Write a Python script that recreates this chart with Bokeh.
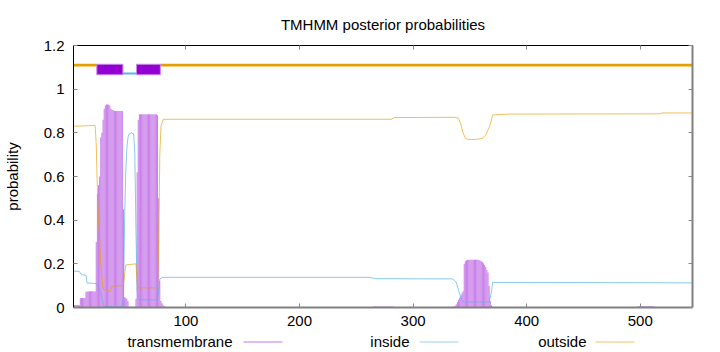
from bokeh.plotting import figure
from bokeh.models import Range1d, FixedTicker, LinearAxis
from bokeh.layouts import column
from bokeh.core.properties import value
from bokeh.embed import file_html
from bokeh.resources import INLINE

# ---------------- data ----------------
seq_length = 546

# topology (predicted segments)
tm_helix_start = [22, 57]
tm_helix_end = [44, 77]
inside_start = [45]
inside_end = [56]
outside_start = [1, 78]
outside_end = [21, 546]

# transmembrane posterior probability, per residue, for the regions where it is non-zero
tm_region_starts = [1, 265, 334, 498]
tm_region_values = [
    [0.012, 0.012, 0.012, 0.012, 0.012, 0.012,
     0.044, 0.044, 0.044, 0.044, 0.044,
     0.072, 0.073, 0.073, 0.074, 0.075, 0.075, 0.074, 0.073, 0.073,
     0.30, 0.52, 0.56, 0.60, 0.78, 0.80, 0.86, 0.91, 0.925, 0.93, 0.93, 0.93, 0.925, 0.91, 0.905, 0.905,
     0.90, 0.90, 0.90, 0.90, 0.90, 0.90, 0.90, 0.90,
     0.45,
     0.047, 0.045, 0.04, 0.03,
     0.003, 0.003, 0.003, 0.003, 0.003, 0.003,
     0.04, 0.62, 0.86,
     0.885, 0.885, 0.885, 0.885, 0.885, 0.885, 0.885, 0.885,
     0.885, 0.885, 0.885, 0.885, 0.885, 0.885, 0.885, 0.885,
     0.88, 0.50, 0.12, 0.03, 0.02, 0.01, 0.005, 0.003],
    [0.005, 0.005, 0.005, 0.005, 0.005, 0.005, 0.005, 0.005, 0.005,
     0.005, 0.005, 0.005, 0.005, 0.005, 0.005, 0.005, 0.005, 0.005],
    [0.004, 0.004, 0.005,
     0.008, 0.015, 0.025, 0.035, 0.045, 0.055, 0.065, 0.075,
     0.20, 0.212, 0.216,
     0.219, 0.219, 0.219, 0.219, 0.219, 0.219, 0.219, 0.219, 0.219, 0.219,
     0.217, 0.215, 0.212, 0.208, 0.203, 0.195, 0.185, 0.172, 0.16, 0.10, 0.03, 0.01],
    [0.006, 0.006, 0.006, 0.006, 0.006, 0.006, 0.006, 0.006,
     0.006, 0.006, 0.006, 0.006, 0.006, 0.006, 0.006],
]

# inside posterior probability (residue, value)
inside_pos = [1, 6, 8, 12, 13, 21, 23, 25, 27, 28, 42, 44, 45, 46, 47, 48, 49, 50, 52, 54,
              55, 56, 57, 58, 75, 76, 77, 79, 262, 267, 335, 338, 340, 342, 344, 367, 369,
              370, 546]
inside_prob = [0.166, 0.166, 0.15, 0.148, 0.112, 0.11, 0.095, 0.07, 0.02, 0.005, 0.003,
               0.01, 0.05, 0.40, 0.62, 0.73, 0.78, 0.795, 0.80, 0.795,
               0.70, 0.35, 0.08, 0.035, 0.035, 0.08, 0.13, 0.138, 0.138, 0.132, 0.131,
               0.115, 0.08, 0.045, 0.026, 0.025, 0.07, 0.115, 0.113]

# outside posterior probability (residue, value)
outside_pos = [1, 20, 21, 22, 23, 24, 25, 27, 33, 35, 45, 46, 47, 56, 57, 58, 75, 76, 77,
               78, 80, 281, 283, 336, 340, 342, 344, 346, 348, 356, 361, 364, 367, 368,
               370, 385, 517, 519, 546]
outside_prob = [0.83, 0.834, 0.75, 0.55, 0.40, 0.32, 0.20, 0.085, 0.073, 0.098, 0.10,
                0.15, 0.195, 0.20, 0.12, 0.09, 0.09, 0.30, 0.70, 0.83, 0.862, 0.862,
                0.87, 0.871, 0.868, 0.84, 0.80, 0.775, 0.77, 0.77, 0.775, 0.79, 0.825,
                0.84, 0.882, 0.886, 0.887, 0.891, 0.891]

x_ticks = [100, 200, 300, 400, 500]
y_ticks = [0, 0.2, 0.4, 0.6, 0.8, 1, 1.2]
y_tick_labels = ["0", "0.2", "0.4", "0.6", "0.8", "1", "1.2"]

title_text = "TMHMM posterior probabilities"
y_label_text = "probability"
legend_names = ["transmembrane", "inside", "outside"]

# ---------------- styles ----------------
FONT = "Liberation Sans"
FS = "15px"
C_TM = "#9400d3"
C_IN = "#56b4e9"
C_OUT = "#e69f00"

# ---------------- build ----------------
tm_x, tm_top = [], []
for start, vals in zip(tm_region_starts, tm_region_values):
    for i, v in enumerate(vals):
        tm_x.append(start + i)
        tm_top.append(v)

W, H_MAIN, H_LEG = 720, 332, 20
BL, BR = 73, 28

p = figure(width=W, height=H_MAIN, output_backend="svg", toolbar_location=None,
           x_range=Range1d(1, seq_length), y_range=Range1d(0, 1.2),
           x_axis_location=None, y_axis_location=None,
           min_border_left=BL, min_border_right=BR, min_border_top=44, min_border_bottom=25)
p.outline_line_color = None
p.background_fill_color = "white"
p.border_fill_color = "white"
p.xgrid.visible = False
p.ygrid.visible = False

p.title.text = title_text
p.title.align = "center"
p.title.text_font = FONT
p.title.text_font_size = FS
p.title.text_font_style = "normal"
p.title.text_color = "black"
p.title.standoff = 26


def make_axis(ticks, show_labels, line_color, line_width, standoff=8):
    ax = LinearAxis(ticker=FixedTicker(ticks=ticks))
    ax.major_tick_in = 4
    ax.major_tick_out = 0
    ax.minor_tick_line_color = None
    ax.major_tick_line_color = "#888888"
    ax.axis_line_color = line_color
    ax.axis_line_width = line_width
    ax.major_label_text_font = FONT
    ax.major_label_text_font_size = FS
    ax.major_label_text_color = "black"
    ax.major_label_standoff = standoff
    if not show_labels:
        ax.major_label_overrides = {t: "" for t in ticks}
        ax.major_label_standoff = 0
    return ax


ax_bottom = make_axis(x_ticks, True, "#808080", 2, standoff=8)
ax_left = make_axis(y_ticks, True, "black", 1, standoff=9)
ax_left.major_label_overrides = {t: s for t, s in zip(y_ticks, y_tick_labels)}
ax_left.axis_label = y_label_text
ax_left.axis_label_text_font = FONT
ax_left.axis_label_text_font_size = FS
ax_left.axis_label_text_font_style = "normal"
ax_left.axis_label_text_color = "black"
ax_left.axis_label_standoff = 20
ax_top = make_axis(x_ticks, False, "black", 1)
ax_right = make_axis(y_ticks, False, "#808080", 2)
p.add_layout(ax_bottom, "below")
p.add_layout(ax_left, "left")
p.add_layout(ax_top, "above")
p.add_layout(ax_right, "right")

# transmembrane impulses
p.vbar(x=tm_x, top=tm_top, bottom=0, width=0.8, fill_color=C_TM, fill_alpha=0.55,
       line_color=None)
# inside / outside curves
p.line(inside_pos, inside_prob, line_color=C_IN, line_width=1, line_alpha=0.7)
p.line(outside_pos, outside_prob, line_color=C_OUT, line_width=1, line_alpha=0.65)

# topology band
p.segment(x0=[max(s - 0.5, 1) for s in outside_start],
          x1=[min(e + 0.5, seq_length) for e in outside_end],
          y0=1.11, y1=1.11, line_color=C_OUT, line_width=2.6)
p.segment(x0=[s - 0.5 for s in inside_start], x1=[e + 0.5 for e in inside_end],
          y0=1.072, y1=1.072, line_color=C_IN, line_width=2)
p.quad(left=[s - 0.5 for s in tm_helix_start], right=[e + 0.5 for e in tm_helix_end],
       bottom=1.066, top=1.114, fill_color=C_TM, line_color="#c88ae6", line_width=1)

# ---------------- legend strip (gnuplot style key: text then line sample) ----------------
# its frame has the same side borders as the main plot; its x units are page pixels
leg = figure(width=W, height=H_LEG, output_backend="svg", toolbar_location=None,
             x_range=Range1d(BL, W - BR), y_range=Range1d(0, H_LEG),
             x_axis_location=None, y_axis_location=None,
             min_border_left=BL, min_border_right=BR, min_border_top=0, min_border_bottom=0)
leg.outline_line_color = None
leg.xgrid.visible = False
leg.ygrid.visible = False
leg.background_fill_color = "white"
leg.border_fill_color = "white"

legend_text_right = [232, 409, 586]
legend_line_x0 = [243, 419, 595]
legend_line_x1 = [282, 458, 634]
legend_colors = [C_TM, C_IN, C_OUT]
legend_alpha = [0.55, 0.6, 0.6]
leg.text(x=legend_text_right, y=[11] * 3, text=legend_names,
         text_font=value(FONT), text_font_size=value(FS), text_align="right",
         text_baseline="middle", text_color="black")
leg.segment(x0=legend_line_x0, y0=[10.5] * 3, x1=legend_line_x1, y1=[10.5] * 3,
            line_color=legend_colors, line_alpha=legend_alpha, line_width=1)

layout = column(p, leg, spacing=0)
open("out.html", "w").write(file_html(layout, INLINE))
